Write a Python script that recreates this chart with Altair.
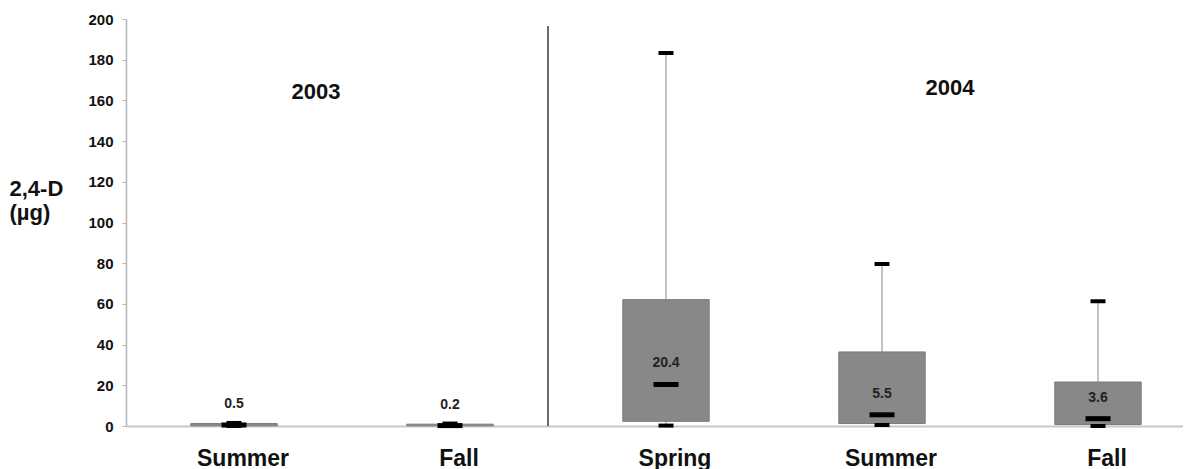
import altair as alt
import pandas as pd

# ---- data ----
keys = ["2003 Summer", "2003 Fall", "2004 Spring", "2004 Summer", "2004 Fall"]
seasons = ["Summer", "Fall", "Spring", "Summer", "Fall"]
median = [0.5, 0.2, 20.4, 5.5, 3.6]
q1 = [0.1, 0.1, 2.3, 1.2, 0.7]
q3 = [1.2, 0.9, 62.1, 36.4, 21.6]
w_low = [0.0, 0.0, 0.2, 0.5, 0.0]
w_high = [1.5, 1.2, 183.3, 79.6, 61.3]
median_labels = ["0.5", "0.2", "20.4", "5.5", "3.6"]
year_labels = ["2003", "2004"]
year_label_y = [164.0, 166.0]
y_ticks = list(range(0, 201, 20))

df = pd.DataFrame({
    "key": keys, "season": seasons, "median": median, "q1": q1, "q3": q3,
    "lo": w_low, "hi": w_high, "mlabel": median_labels,
})

FONT = "Liberation Sans"
W, H = 1057, 407

xscale = alt.Scale(domain=keys, paddingInner=0.6, paddingOuter=0.24676,
                   align=0.6079, round=False)
yscale = alt.Scale(domain=[0, 200], nice=False, zero=True)

xenc = alt.X("key:N", scale=xscale, sort=keys,
             axis=alt.Axis(title=None, labelExpr="split(datum.label, ' ')[1]",
                           labelFontSize=23, labelFontWeight="bold", labelColor="#111",
                           labelFont=FONT, labelPadding=21, labelOffset=9,
                           ticks=False, tickSize=0, domainColor="#c8c8c8",
                           domainWidth=2, labelAngle=0))
yaxis = alt.Axis(values=y_ticks, title=["2,4-D", "(µg)"], titleAngle=0,
                 titleAlign="left", titleBaseline="alphabetic", titleX=-117,
                 titleY=176, titleFontSize=22, titleFont=FONT,
                 titleFontWeight="bold", titleColor="#111", titleLineHeight=24,
                 labelFontSize=15, labelFontWeight="bold", labelFont=FONT,
                 labelColor="#111", labelPadding=9, tickSize=4,
                 tickColor="#b5b5b5", domainColor="#b5b5b5", domainWidth=1.5,
                 grid=False)

base = alt.Chart(df)

whisk = base.mark_rule(color="#b0b0b0", strokeWidth=1.5).encode(
    x=xenc, y=alt.Y("lo:Q", scale=yscale, axis=yaxis), y2="hi:Q")

box = base.mark_bar(color="#888888", stroke="#7a7a7a", strokeWidth=1, opacity=1).encode(
    x=xenc, y=alt.Y("q1:Q", scale=yscale), y2="q3:Q")

cap_hi = base.mark_tick(color="#000", size=15, thickness=4, opacity=1).encode(
    x=xenc, y=alt.Y("hi:Q", scale=yscale))
cap_lo = base.mark_tick(color="#000", size=15, thickness=4, opacity=1).encode(
    x=xenc, y=alt.Y("lo:Q", scale=yscale))

med = base.mark_tick(color="#000", size=25, thickness=5, opacity=1).encode(
    x=xenc, y=alt.Y("median:Q", scale=yscale))

mtext = base.mark_text(font=FONT, fontSize=14, fontWeight="bold", color="#222",
                       dy=-21, baseline="middle").encode(
    x=xenc, y=alt.Y("median:Q", scale=yscale), text="mlabel:N")

divider = alt.Chart(pd.DataFrame({"a": [0]})).mark_rule(
    color="#6a6a6a", strokeWidth=2).encode(
    x=alt.value(422), y=alt.datum(196.5, scale=yscale), y2=alt.datum(0))

ylab_df = pd.DataFrame({"year": year_labels, "yv": year_label_y})
yr2003 = alt.Chart(ylab_df.iloc[[0]]).mark_text(
    font=FONT, fontSize=22, fontWeight="bold", color="#111").encode(
    x=alt.value(190), y=alt.Y("yv:Q", scale=yscale), text="year:N")
yr2004 = alt.Chart(ylab_df.iloc[[1]]).mark_text(
    font=FONT, fontSize=22, fontWeight="bold", color="#111").encode(
    x=alt.value(824), y=alt.Y("yv:Q", scale=yscale), text="year:N")

chart = alt.layer(whisk, box, cap_hi, cap_lo, med, mtext, divider, yr2003, yr2004).properties(
    width=W, height=H,
    autosize=alt.AutoSizeParams(type="none"),
    padding={"left": 118, "top": 11, "right": 0, "bottom": 43},
    background="white",
).configure_view(stroke=None)

chart.save("out.html", embed_options={"renderer": "svg", "actions": False})
